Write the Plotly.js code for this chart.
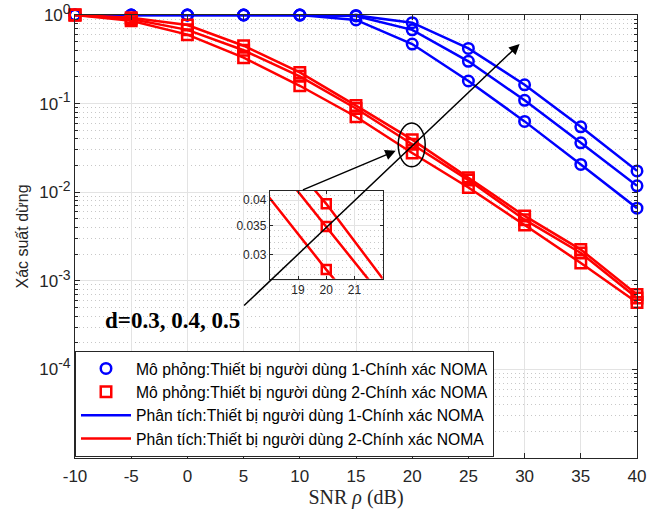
<!DOCTYPE html>
<html>
<head>
<meta charset="utf-8">
<script src="https://cdn.plot.ly/plotly-3.0.1.min.js"></script>
<style>
  html, body { margin: 0; padding: 0; background: #fff; }
  #chart { width: 653px; height: 510px; }
</style>
</head>
<body>
<div id="chart"></div>
<script>
// SNR grid (dB)
const snr = [-10, -5, 0, 5, 10, 15, 20, 25, 30, 35, 40];

// User 1 outage probability, one series per power-split value d
const user1A = [1, 1, 1, 1, 1, 0.99, 0.82, 0.42, 0.163, 0.0547, 0.0174];
const user1B = [1, 1, 1, 1, 1, 0.975, 0.68, 0.30, 0.109, 0.0361, 0.0118];
const user1C = [1, 1, 1, 1, 0.999, 0.88, 0.47, 0.18, 0.063, 0.0206, 0.0066];

// User 2 outage probability
const user2A = [1, 0.93, 0.77, 0.45, 0.225, 0.095, 0.0392, 0.0146, 0.0054, 0.00225, 0.0007];
const user2B = [1, 0.90, 0.68, 0.40, 0.203, 0.088, 0.0348, 0.0137, 0.0049, 0.00206, 0.00064];
const user2C = [1, 0.86, 0.60, 0.33, 0.159, 0.071, 0.0277, 0.0113, 0.00426, 0.00159, 0.00057];

const yTickVals = [1e-4, 1e-3, 1e-2, 1e-1, 1];
const yTickExp = ['-4', '-3', '-2', '-1', '0'];
const xTickVals = [-10, -5, 0, 5, 10, 15, 20, 25, 30, 35, 40];
const xTickText = ['-10', '-5', '0', '5', '10', '15', '20', '25', '30', '35', '40'];

const insetXTicks = [19, 20, 21];
const insetYTicks = [0.03, 0.035, 0.04];
const insetYText = ['0.03', '0.035', '0.04'];

const legendNames = [
  'Mô phỏng:Thiết bị người dùng 1-Chính xác NOMA',
  'Mô phỏng:Thiết bị người dùng 2-Chính xác NOMA',
  'Phân tích:Thiết bị người dùng 1-Chính xác NOMA',
  'Phân tích:Thiết bị người dùng 2-Chính xác NOMA'
];

const BLUE = '#0000ff';
const RED = '#ff0000';

// power-of-ten labels with a slightly larger exponent
const yTickText = yTickExp.map(e => '10<sup><span style="font-size:14px">' + e + '</span></sup>');

const traces = [];

function addGroup(series, color, symbol, simName, anaName, simRank, anaRank) {
  series.forEach((ys, i) => {
    traces.push({
      x: snr, y: ys, type: 'scatter', mode: 'lines',
      line: { color: color, width: 2.5 },
      name: anaName, legendgroup: anaName, showlegend: i === 0, legendrank: anaRank,
      hoverinfo: 'skip'
    });
    traces.push({
      x: snr, y: ys, type: 'scatter', mode: 'markers', cliponaxis: false,
      marker: { symbol: symbol, size: 10.5, color: color, line: { color: color, width: 2.5 } },
      name: simName, legendgroup: simName, showlegend: i === 0, legendrank: simRank,
      hoverinfo: 'skip'
    });
  });
}

addGroup([user1A, user1B, user1C], BLUE, 'circle-open', legendNames[0], legendNames[2], 1, 3);
addGroup([user2A, user2B, user2C], RED, 'square-open', legendNames[1], legendNames[3], 2, 4);

// Zoomed view around SNR = 20 dB for user 2
[user2A, user2B, user2C].forEach(ys => {
  traces.push({
    x: snr, y: ys, type: 'scatter', mode: 'lines+markers',
    xaxis: 'x2', yaxis: 'y2',
    line: { color: RED, width: 2.5 },
    marker: { symbol: 'square-open', size: 9, color: RED, line: { color: RED, width: 2.5 } },
    showlegend: false, hoverinfo: 'skip'
  });
});

// Plot-area geometry in pixels (used to place the callouts)
const W = 653, H = 510;
const M = { l: 75, r: 15.5, t: 15, b: 51.5 };
const PW = W - M.l - M.r, PH = H - M.t - M.b;
const px = v => (v - M.l) / PW;
const py = v => (H - M.b - v) / PH;

const sans = 'Liberation Sans, Arial, sans-serif';
const serif = 'Liberation Serif, Times New Roman, serif';
const axisFont = { family: sans, size: 17, color: '#262626' };

const layout = {
  width: W, height: H,
  margin: M,
  paper_bgcolor: '#ffffff',
  plot_bgcolor: '#ffffff',
  showlegend: true,
  xaxis: {
    domain: [0, 1], range: [-10, 40],
    tickvals: xTickVals, ticktext: xTickText, ticks: 'inside', ticklen: 5, tickcolor: '#262626',
    ticklabelstandoff: 3,
    showline: true, linecolor: '#262626', linewidth: 1, mirror: 'ticks',
    showgrid: true, gridcolor: '#e3e3e3', gridwidth: 1,
    zeroline: false, tickfont: axisFont,
    title: { text: 'SNR <i>ρ</i> (dB)', font: { family: serif, size: 20, color: '#262626' }, standoff: 3 }
  },
  yaxis: {
    type: 'log', range: [-5, 0],
    tickvals: yTickVals, ticktext: yTickText, ticks: 'inside', ticklen: 5, tickcolor: '#262626',
    showline: true, linecolor: '#262626', linewidth: 1, mirror: 'ticks',
    showgrid: true, gridcolor: '#e3e3e3', gridwidth: 1,
    zeroline: false, tickfont: axisFont,
    minor: { dtick: 'D1', ticks: 'inside', ticklen: 3, tickcolor: '#262626', showgrid: true, gridcolor: '#c8c8c8', griddash: '1px,3px' },
    title: { text: 'Xác suất dừng', font: { family: sans, size: 16, color: '#262626' }, standoff: 6 }
  },
  xaxis2: {
    domain: [px(270), px(383)], anchor: 'y2', range: [18, 22],
    tickvals: insetXTicks, ticks: 'inside', ticklen: 3, tickcolor: '#262626',
    showline: true, linecolor: '#262626', linewidth: 1, mirror: 'ticks',
    showgrid: true, gridcolor: '#e3e3e3', zeroline: false,
    tickfont: { family: sans, size: 12, color: '#262626' }
  },
  yaxis2: {
    domain: [py(279), py(191)], anchor: 'x2', type: 'log',
    range: [Math.log10(0.0264), Math.log10(0.042)],
    tickvals: insetYTicks, ticktext: insetYText, ticks: 'inside', ticklen: 3, tickcolor: '#262626',
    showline: true, linecolor: '#262626', linewidth: 1, mirror: 'ticks',
    showgrid: true, gridcolor: '#e3e3e3', zeroline: false,
    minor: { dtick: 'L0.001', showgrid: true, gridcolor: '#c8c8c8', griddash: '1px,3px', ticks: '' },
    tickfont: { family: sans, size: 12, color: '#262626' }
  },
  legend: {
    x: 0, y: 0.003, xanchor: 'left', yanchor: 'bottom',
    bgcolor: '#ffffff', bordercolor: '#262626', borderwidth: 1,
    font: { family: sans, size: 15.7, color: '#000000' },
    itemwidth: 50, tracegroupgap: 0, traceorder: 'normal'
  },
  shapes: [
    {
      type: 'circle', xref: 'paper', yref: 'paper',
      x0: px(398.5), x1: px(425.5), y0: py(167), y1: py(123),
      line: { color: '#000000', width: 1.5 }, layer: 'above'
    }
  ],
  annotations: [
    {
      xref: 'paper', yref: 'paper', x: px(520), y: py(44),
      ax: 243 - 520, ay: 307 - 44, axref: 'pixel', ayref: 'pixel',
      text: '', showarrow: true, arrowhead: 2, arrowsize: 1.4, arrowwidth: 1.5,
      arrowcolor: '#000000', standoff: 0, startstandoff: 0
    },
    {
      xref: 'paper', yref: 'paper', x: px(396), y: py(151),
      ax: 301.7 - 396, ay: 190.7 - 151, axref: 'pixel', ayref: 'pixel',
      text: '', showarrow: true, arrowhead: 2, arrowsize: 1.4, arrowwidth: 1.5,
      arrowcolor: '#000000', standoff: 0, startstandoff: 0
    },
    {
      xref: 'paper', yref: 'paper', x: px(173), y: py(321),
      xanchor: 'center', yanchor: 'middle', showarrow: false,
      text: '<b>d=0.3, 0.4, 0.5</b>',
      font: { family: serif, size: 23, color: '#000000' }
    }
  ]
};

Plotly.newPlot('chart', traces, layout, { displayModeBar: false, staticPlot: true });
</script>
</body>
</html>
